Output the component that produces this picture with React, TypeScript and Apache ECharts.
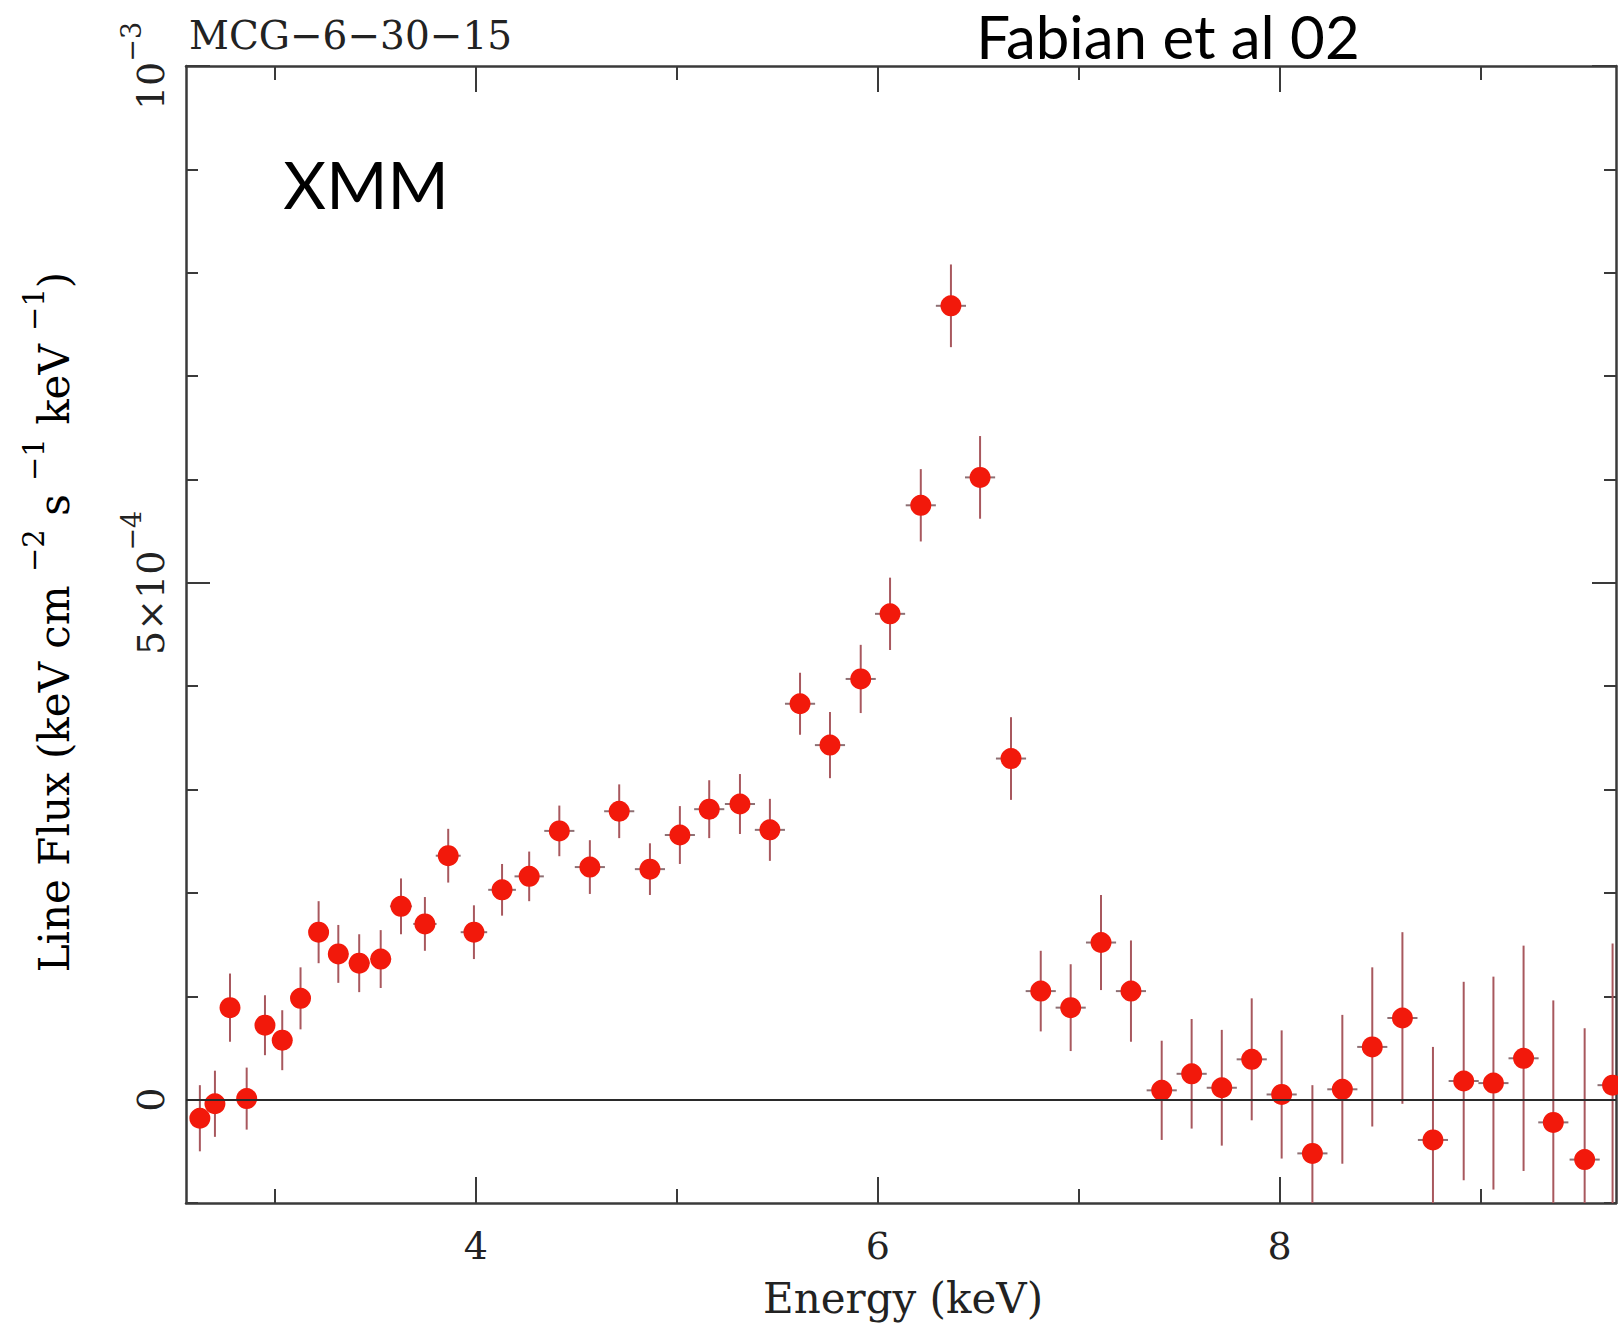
import React, { useEffect, useRef } from "react";
import * as echarts from "echarts";

// ---- data (flux in units of 1e-4) ----
const energyKeV = [
  2.626, 2.701, 2.776, 2.859, 2.95, 3.036, 3.127, 3.217, 3.315, 3.419,
  3.526, 3.627, 3.746, 3.862, 3.99, 4.13, 4.265, 4.415, 4.567, 4.713,
  4.866, 5.015, 5.161, 5.314, 5.463, 5.613, 5.762, 5.915, 6.061, 6.214,
  6.364, 6.509, 6.663, 6.811, 6.96, 7.111, 7.26, 7.413, 7.562, 7.712,
  7.861, 8.01, 8.163, 8.312, 8.461, 8.611, 8.763, 8.916, 9.064, 9.214,
  9.362, 9.518, 9.657,
];
const energyHalfWidth = [
  0.037, 0.037, 0.039, 0.043, 0.044, 0.045, 0.045, 0.047, 0.05, 0.052,
  0.052, 0.055, 0.058, 0.062, 0.066, 0.069, 0.073, 0.075, 0.075, 0.075,
  0.075, 0.075, 0.075, 0.075, 0.075, 0.075, 0.075, 0.075, 0.075, 0.075,
  0.075, 0.075, 0.075, 0.075, 0.075, 0.075, 0.075, 0.075, 0.075, 0.075,
  0.075, 0.075, 0.075, 0.075, 0.075, 0.075, 0.075, 0.075, 0.075, 0.075,
  0.075, 0.075, 0.075,
];
const lineFlux = [
  -0.18, -0.04, 0.89, 0.01, 0.72, 0.575, 0.98, 1.62, 1.41, 1.32,
  1.36, 1.87, 1.7, 2.36, 1.62, 2.03, 2.16, 2.6, 2.25, 2.79,
  2.23, 2.56, 2.81, 2.86, 2.61, 3.83, 3.43, 4.07, 4.7, 5.75,
  7.68, 6.02, 3.3, 1.05, 0.89, 1.52, 1.05, 0.09, 0.25, 0.115,
  0.39, 0.05, -0.52, 0.1, 0.51, 0.79, -0.39, 0.18, 0.16, 0.4,
  -0.22, -0.58, 0.14,
];
const lineFluxErr = [
  0.32, 0.32, 0.33, 0.3, 0.29, 0.29, 0.3, 0.3, 0.28, 0.28,
  0.28, 0.27, 0.26, 0.26, 0.26, 0.25, 0.24, 0.245, 0.26, 0.26,
  0.25, 0.28, 0.28, 0.29, 0.3, 0.3, 0.32, 0.33, 0.35, 0.35,
  0.4, 0.4, 0.4, 0.39, 0.42, 0.46, 0.49, 0.48, 0.53, 0.56,
  0.59, 0.62, 0.66, 0.72, 0.77, 0.83, 0.9, 0.96, 1.03, 1.09,
  1.18, 1.27, 1.37,
];
const FLUX_UNIT = 1e-4;

const xMajorTicks = [4, 6, 8];
const xMinorTicks = [3, 5, 7, 9];
const yMajorTicks = [0, 0.0005, 0.001];
const yMinorTicks = [-0.0001, 0.0001, 0.0002, 0.0003, 0.0004, 0.0006, 0.0007, 0.0008, 0.0009];
const X_MIN = 2.557;
const X_MAX = 9.674;
const Y_MIN = -0.0001;
const Y_MAX = 0.001;

const SERIF = '"DejaVu Serif", "Liberation Serif", serif';
const HAND = 'Lato, "Open Sans", sans-serif';
const AXIS_COLOR = "#3a3a3a";
const BAR_COLOR = "#a8585e";
const DOT_COLOR = "#f2190b";

const makeRich = (big: number, small: number, lineH: number) => ({
  n: { fontSize: big, fontFamily: SERIF, color: "#222", lineHeight: big, verticalAlign: "bottom" },
  s: { fontSize: small, fontFamily: SERIF, color: "#222", lineHeight: lineH, verticalAlign: "top" },
});

export default function App() {
  const ref = useRef<HTMLDivElement>(null);

  useEffect(() => {
    document.body.style.margin = "0";
    const chart = echarts.init(ref.current as HTMLDivElement, null, { renderer: "svg" });

    const errData = energyKeV.map((e, i) => [
      e,
      lineFlux[i] * FLUX_UNIT,
      energyHalfWidth[i],
      lineFluxErr[i] * FLUX_UNIT,
    ]);
    const dotData = energyKeV.map((e, i) => [e, lineFlux[i] * FLUX_UNIT]);

    const xAxisBase = (position: string, ticks: number[], length: number, showLine: boolean, showLabel: boolean) => ({
      type: "value",
      gridIndex: 0,
      position,
      min: X_MIN,
      max: X_MAX,
      axisLine: { show: showLine, onZero: false, lineStyle: { color: AXIS_COLOR, width: 2.5 } },
      axisTick: {
        show: true,
        inside: true,
        length,
        customValues: ticks,
        lineStyle: { color: AXIS_COLOR, width: 2 },
      },
      axisLabel: showLabel
        ? {
            show: true,
            customValues: ticks,
            margin: 24,
            fontSize: 38,
            fontFamily: SERIF,
            color: "#222",
          }
        : { show: false },
      splitLine: { show: false },
    });

    const yAxisBase = (position: string, ticks: number[], length: number, showLine: boolean, showLabel: boolean) => ({
      type: "value",
      gridIndex: 0,
      position,
      min: Y_MIN,
      max: Y_MAX,
      axisLine: { show: showLine, onZero: false, lineStyle: { color: AXIS_COLOR, width: 2.5 } },
      axisTick: {
        show: true,
        inside: true,
        length,
        customValues: ticks,
        lineStyle: { color: AXIS_COLOR, width: 2 },
      },
      axisLabel: showLabel
        ? {
            show: true,
            customValues: ticks,
            rotate: 90,
            margin: 16,
            hideOverlap: false,
            formatter: (v: number) =>
              Math.abs(v) < 1e-12 ? "{n|0}" : v > 0.00075 ? "{n|10}{s|−3}" : "{n|5×10}{s|−4}",
            rich: makeRich(38, 27, 52),
          }
        : { show: false },
      splitLine: { show: false },
    });

    const option = {
      animation: false,
      backgroundColor: "#ffffff",
      grid: { left: 186, right: 2, top: 66, bottom: 131, containLabel: false },
      xAxis: [
        xAxisBase("bottom", xMajorTicks, 26, true, true),
        xAxisBase("bottom", xMinorTicks, 14, false, false),
        xAxisBase("top", xMajorTicks, 26, true, false),
        xAxisBase("top", xMinorTicks, 14, false, false),
      ],
      yAxis: [
        yAxisBase("left", yMajorTicks, 24, true, true),
        yAxisBase("left", yMinorTicks, 12, false, false),
        yAxisBase("right", yMajorTicks, 24, true, false),
        yAxisBase("right", yMinorTicks, 12, false, false),
      ],
      series: [
        {
          type: "custom",
          xAxisIndex: 0,
          yAxisIndex: 0,
          z: 2,
          clip: true,
          data: errData,
          renderItem: (params: any, api: any) => {
            const x = api.value(0);
            const y = api.value(1);
            const ex = api.value(2);
            const ey = api.value(3);
            const top = api.coord([x, y + ey]);
            const bot = api.coord([x, y - ey]);
            const l = api.coord([x - ex, y]);
            const r = api.coord([x + ex, y]);
            return {
              type: "group",
              children: [
                {
                  type: "line",
                  shape: { x1: top[0], y1: top[1], x2: bot[0], y2: bot[1] },
                  style: { stroke: BAR_COLOR, lineWidth: 2 },
                },
                {
                  type: "line",
                  shape: { x1: l[0], y1: l[1], x2: r[0], y2: r[1] },
                  style: { stroke: "#8f7074", lineWidth: 2 },
                },
              ],
            };
          },
          markLine: {
            silent: true,
            symbol: ["none", "none"],
            label: { show: false },
            lineStyle: { color: "#2a2a2a", width: 2, type: "solid" },
            data: [{ yAxis: 0 }],
          },
        },
        {
          type: "scatter",
          xAxisIndex: 0,
          yAxisIndex: 0,
          z: 3,
          symbol: "circle",
          symbolSize: 21,
          itemStyle: { color: DOT_COLOR, opacity: 1 },
          data: dotData,
        },
      ],
      graphic: [
        {
          type: "text",
          x: 189,
          y: 35,
          style: {
            text: "MCG−6−30−15",
            fontSize: 39,
            fontFamily: SERIF,
            fill: "#222",
            align: "left",
            verticalAlign: "middle",
          },
        },
        {
          type: "text",
          x: 1168,
          y: 36,
          style: {
            text: "Fabian et al 02",
            fontSize: 60,
            fontFamily: HAND,
            fill: "#000",
            align: "center",
            verticalAlign: "middle",
          },
        },
        {
          type: "text",
          x: 366,
          y: 183,
          style: {
            text: "XMM",
            fontSize: 66,
            fontFamily: HAND,
            fill: "#000",
            align: "center",
            verticalAlign: "middle",
          },
        },
        {
          type: "text",
          x: 903,
          y: 1298,
          style: {
            text: "Energy (keV)",
            fontSize: 42,
            fontFamily: SERIF,
            fill: "#222",
            align: "center",
            verticalAlign: "middle",
          },
        },
        {
          type: "text",
          x: 47,
          y: 622,
          rotation: Math.PI / 2,
          style: {
            text: "{n|Line Flux (keV cm }{s|−2}{n| s }{s|−1}{n| keV }{s|−1}{n|)}",
            rich: makeRich(42, 29, 56),
            align: "center",
            verticalAlign: "middle",
          },
        },
      ],
    };

    chart.setOption(option as any);
    return () => chart.dispose();
  }, []);

  return (
    <div
      ref={ref}
      style={{ position: "absolute", left: 0, top: 0, width: 1618, height: 1334, background: "#fff" }}
    />
  );
}
